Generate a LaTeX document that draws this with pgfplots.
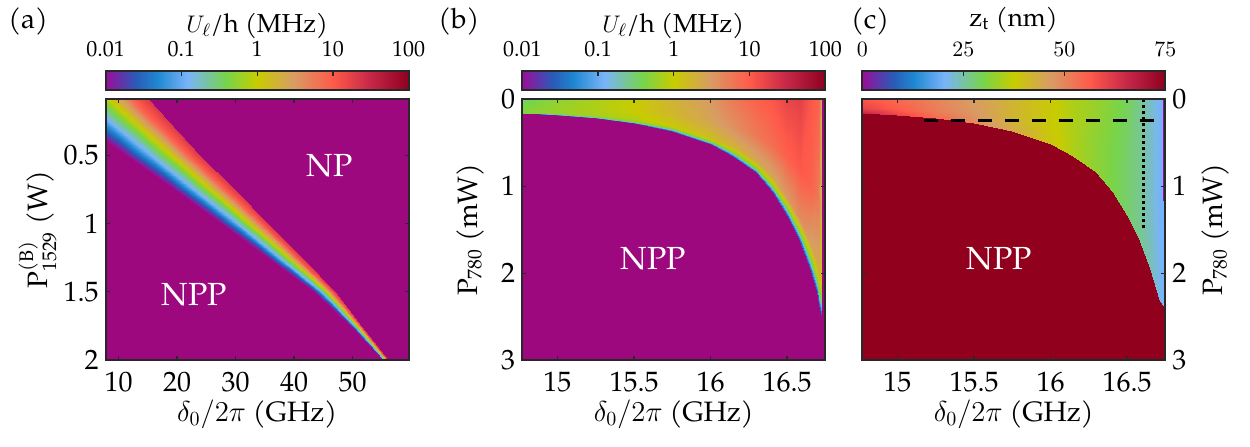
\documentclass[border=0pt]{standalone}
\usepackage{fontspec}
\setmainfont{TeX Gyre Pagella}
\usepackage{amsmath}
\usepackage{pgfplots}
\pgfplotsset{compat=1.18}
\definecolor{nppmag}{RGB}{158,8,126}
\definecolor{nppred}{RGB}{145,0,28}
\definecolor{cmin}{RGB}{155,13,154}
\definecolor{frame}{RGB}{40,40,40}
\pgfplotsset{
  colormap={paper}{rgb255(0cm)=(155,13,154) rgb255(10cm)=(42,90,184) rgb255(17cm)=(30,136,210) rgb255(27cm)=(120,180,250) rgb255(40cm)=(120,212,72) rgb255(50cm)=(200,204,0) rgb255(62cm)=(216,156,100) rgb255(75cm)=(255,90,74) rgb255(87cm)=(200,40,72) rgb255(100cm)=(142,0,32)},
  cbstyle/.style={
    at={(parent axis.north west)}, anchor=south west, yshift=13pt,
    scale only axis, width=151.5pt, height=9.5pt,
    xticklabel pos=upper, xtick pos=right,
    xtick align=inside, major tick length=2.5pt,
    tick style={draw=frame, line width=0.6pt},
    axis line style={draw=frame, line width=0.9pt},
    xticklabel style={font=\fontsize{11}{11}\selectfont, anchor=base, yshift=7.25pt},
    ytick=\empty,
  },
  panel/.style={
    scale only axis, width=151.5pt, height=130.35pt,
    axis on top, y dir=reverse,
    tick align=inside, major tick length=2pt,
    tick style={draw=frame, line width=0.6pt},
    axis line style={draw=frame, line width=0.9pt},
    tick label style={font=\fontsize{14}{14}\selectfont},
    label style={font=\fontsize{14}{15}\selectfont},
    /pgf/number format/assume math mode=true,
    xticklabel style={anchor=base, yshift=-15.8pt},
    xlabel style={at={(axis description cs:0.5,-0.236)}, anchor=base},
    colormap name=paper,
    colorbar horizontal,
  },
}
\begin{document}
\begin{tikzpicture}
\path[use as bounding box] (0,0) rectangle (625pt,223pt);
% ---------------- (a)
\begin{axis}[panel, at={(52.85pt,43pt)}, anchor=south west,
  xmin=7.8, xmax=59.6, ymin=0.09, ymax=2,
  xtick={10,20,30,40,50}, ytick={0.5,1,1.5,2},
  axis background/.style={fill=nppmag},
  point meta min=-2, point meta max=2,
  colorbar style={cbstyle, xtick={-2,-1,0,1,2}, xticklabels={0.01,0.1,1,10,100}},
  xlabel={$\delta_0/2\pi$ (GHz)},
  ylabel={P$^{\text{(B)}}_{\text{1529}}$ (W)},
  ylabel style={at={(axis description cs:-0.225,0.5)}, anchor=center}]
\addplot[surf, shader=interp, mesh/cols=5, point meta=explicit] table[x=x, y=y, meta=m] {
x y m
-4.6 0.00 -2.3
0.74 0.00 -1.0
6.08 0.00 0.0
10.53 0.00 1.0
13.2 0.00 1.3
3.45 0.25 -2.3
7.97 0.25 -1.0
12.48 0.25 0.0
16.24 0.25 1.0
18.5 0.25 1.3
11.5 0.50 -2.3
15.19 0.50 -1.0
18.88 0.50 0.0
21.96 0.50 1.0
23.8 0.50 1.3
19.6 0.75 -2.3
22.63 0.75 -1.0
25.66 0.75 0.0
28.19 0.75 1.0
29.7 0.75 1.3
27.9 1.00 -2.3
30.21 1.00 -1.0
32.52 1.00 0.0
34.45 1.00 1.0
35.6 1.00 1.3
35.7 1.25 -2.3
37.38 1.25 -1.0
39.06 1.25 0.0
40.46 1.25 1.0
41.3 1.25 1.3
43.6 1.50 -2.3
44.62 1.50 -1.0
45.64 1.50 0.0
46.49 1.50 1.0
47.0 1.50 1.3
49.8 1.75 -2.3
50.31 1.75 -1.0
50.82 1.75 0.0
51.25 1.75 1.0
51.5 1.75 1.3
55.2 2.00 -2.3
55.44 2.00 -1.0
55.68 2.00 0.0
55.88 2.00 1.0
56.0 2.00 1.3
};
\node[text=white, font=\fontsize{16}{16}\selectfont] at (axis cs:46.1,0.58) {NP};
\node[text=white, font=\fontsize{16}{16}\selectfont] at (axis cs:23.0,1.52) {NPP};
\end{axis}
% ---------------- (b)
\begin{axis}[panel, at={(261.15pt,43pt)}, anchor=south west,
  xmin=14.77, xmax=16.75, ymin=0, ymax=3,
  xtick={15,15.5,16,16.5}, ytick={0,1,2,3},
  axis background/.style={fill=nppmag},
  point meta min=-2, point meta max=2,
  colorbar style={cbstyle, xtick={-2,-1,0,1,2}, xticklabels={0.01,0.1,1,10,100}},
  xlabel={$\delta_0/2\pi$ (GHz)},
  ylabel={P$_{\text{780}}$ (mW)},
  ylabel style={at={(axis description cs:-0.1726,0.5)}, anchor=center}]
\addplot[surf, shader=interp, mesh/cols=5, point meta=explicit] table[x=x, y=y, meta=m] {
x y m
14.77 0 -0.5
14.77 0.08 -0.4
14.77 0.136 -0.35
14.77 0.152 -0.4
14.77 0.16 -1.5
15.00 0 -0.3
15.00 0.09 -0.24
15.00 0.153 -0.25
15.00 0.171 -0.4
15.00 0.18 -1.5
15.25 0 -0.15
15.25 0.11 -0.12
15.25 0.187 -0.175
15.25 0.209 -0.4
15.25 0.22 -1.5
15.50 0 0.0
15.50 0.135 0.0
15.50 0.2295 -0.1
15.50 0.2565 -0.4
15.50 0.27 -1.5
15.75 0 0.25
15.75 0.18 0.2
15.75 0.306 0.025
15.75 0.342 -0.4
15.75 0.36 -1.5
16.00 0 0.5
16.00 0.26 0.4
16.00 0.442 0.15
16.00 0.494 -0.4
16.00 0.52 -1.5
16.15 0 0.75
16.15 0.325 0.56
16.15 0.5525 0.25
16.15 0.6175 -0.4
16.15 0.65 -1.5
16.30 0 0.95
16.30 0.42 0.75
16.30 0.714 0.35
16.30 0.798 -0.4
16.30 0.84 -1.5
16.41 0 1.05
16.41 0.535 0.85
16.41 0.9095 0.4
16.41 1.0165 -0.4
16.41 1.07 -1.5
16.50 0 1.2
16.50 0.665 0.95
16.50 1.1305 0.5
16.50 1.2635 -0.4
16.50 1.33 -1.5
16.585 0 1.25
16.585 0.815 1.02
16.585 1.3855 0.6
16.585 1.5485 -0.4
16.585 1.63 -1.5
16.65 0 1.05
16.65 0.97 0.95
16.65 1.649 0.45
16.65 1.843 -0.4
16.65 1.94 -1.5
16.694 0 0.95
16.694 1.105 0.8
16.694 1.8785 0.375
16.694 2.0995 -0.4
16.694 2.21 -1.5
16.712 0 0.9
16.712 1.18 0.72
16.712 2.006 0.35
16.712 2.242 -0.4
16.712 2.36 -1.5
16.727 0 0.0
16.727 1.25 0.0
16.727 2.125 -0.1
16.727 2.375 -0.4
16.727 2.5 -1.5
};
\node[text=white, font=\fontsize{16}{16}\selectfont] at (axis cs:15.626,1.84) {NPP};
\end{axis}
% ---------------- (c)
\begin{axis}[panel, at={(431.15pt,43pt)}, anchor=south west,
  xmin=14.77, xmax=16.75, ymin=0, ymax=3,
  xtick={15,15.5,16,16.5}, ytick={0,1,2,3},
  yticklabel pos=right, ytick pos=both,
  axis background/.style={fill=nppred},
  point meta min=0, point meta max=75,
  colorbar style={cbstyle, xtick={0,25,50,75}},
  xlabel={$\delta_0/2\pi$ (GHz)},
  ylabel={P$_{\text{780}}$ (mW)},
  ylabel style={at={(axis description cs:1.165,0.5)}, anchor=center}]
\addplot[surf, shader=interp, mesh/cols=3, point meta=explicit] table[x=x, y=y, meta=m] {
x y m
14.77 0 57
14.77 0.096 60
14.77 0.16 66
15.00 0 54
15.00 0.108 56
15.00 0.18 60
15.25 0 50
15.25 0.132 51
15.25 0.22 54
15.50 0 46
15.50 0.162 47
15.50 0.27 49
15.75 0 42
15.75 0.216 42
15.75 0.36 44
16.00 0 38
16.00 0.312 38
16.00 0.52 39
16.15 0 35
16.15 0.39 35
16.15 0.65 35
16.30 0 33
16.30 0.504 32
16.30 0.84 32
16.41 0 31
16.41 0.642 30
16.41 1.07 30
16.50 0 29
16.50 0.798 28
16.50 1.33 28
16.585 0 26
16.585 0.978 26
16.585 1.63 26
16.65 0 23
16.65 1.164 23
16.65 1.94 24
16.694 0 21
16.694 1.326 21
16.694 2.21 22
16.712 0 20
16.712 1.38 20
16.712 2.30 21
16.75 0 20
16.75 1.44 20
16.75 2.40 20
};
\addplot[draw=none, fill=cmin] coordinates {(16.733,0) (16.76,0) (16.76,1.17) (16.733,1.17)} -- cycle;
\addplot[black, line width=1.5pt, dash pattern=on 7pt off 6.5pt] coordinates {(15.17,0.242) (16.75,0.242)};
\addplot[black, line width=1.5pt, dash pattern=on 1.5pt off 1.5pt] coordinates {(16.61,0) (16.61,1.48)};
\node[text=white, font=\fontsize{16}{16}\selectfont] at (axis cs:15.667,1.84) {NPP};
\end{axis}
% ---------------- labels
\node[anchor=base west, inner sep=0, font=\fontsize{14}{14}\selectfont] at (4pt,209pt) {(a)};
\node[anchor=base west, inner sep=0, font=\fontsize{14}{14}\selectfont] at (219pt,209pt) {(b)};
\node[anchor=base west, inner sep=0, font=\fontsize{14}{14}\selectfont] at (425.35pt,209pt) {(c)};
\node[anchor=base, inner sep=0, font=\fontsize{13}{13}\selectfont] at (128.6pt,206.75pt) {$U_\ell$/h (MHz)};
\node[anchor=base, inner sep=0, font=\fontsize{13}{13}\selectfont] at (336.65pt,206.75pt) {$U_\ell$/h (MHz)};
\node[anchor=base, inner sep=0, font=\fontsize{13}{13}\selectfont] at (506.8pt,210pt) {z$_{\text{t}}$ (nm)};
\end{tikzpicture}
\end{document}
